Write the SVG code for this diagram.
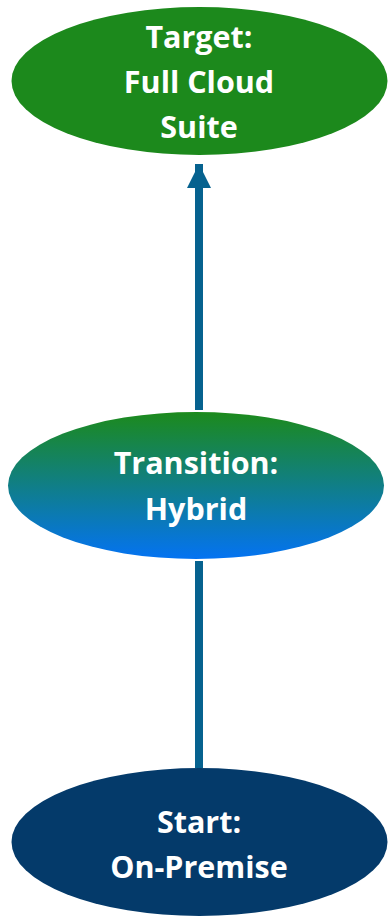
<svg xmlns="http://www.w3.org/2000/svg" width="388" height="917" viewBox="0 0 388 917">
<defs>
<linearGradient id="g" x1="0" y1="0" x2="0" y2="1">
<stop offset="0" stop-color="#1c8a1c"/>
<stop offset="1" stop-color="#0473f2"/>
</linearGradient>
<marker id="ah" markerUnits="userSpaceOnUse" markerWidth="24" markerHeight="24" refX="24" refY="12" orient="auto">
<path d="M0,0 L24,12 L0,24 Z" fill="#06628f"/>
</marker>
<style>
text{font-family:"Open Sans","Liberation Sans",sans-serif;font-weight:bold;font-size:30.5px;fill:#fff;text-anchor:middle}
.c{stroke:#06628f;stroke-width:8;fill:none}
</style>
</defs>
<g id="connectors">
<line class="c" x1="199" y1="410" x2="199" y2="164" marker-end="url(#ah)"/>
<line class="c" x1="199" y1="768" x2="199" y2="561"/>
</g>
<g id="target">
<ellipse cx="199.5" cy="81" rx="188" ry="74" fill="#1c891c"/>
<text x="199" y="48">Target:</text>
<text x="199" y="93">Full Cloud</text>
<text x="199" y="138">Suite</text>
</g>
<g id="transition">
<ellipse cx="196" cy="485.5" rx="188" ry="73.5" fill="url(#g)"/>
<text x="196" y="474">Transition:</text>
<text x="196" y="520">Hybrid</text>
</g>
<g id="start">
<ellipse cx="199.5" cy="842" rx="188" ry="74" fill="#043a6a"/>
<text x="199" y="833">Start:</text>
<text x="199" y="878">On-Premise</text>
</g>
</svg>
